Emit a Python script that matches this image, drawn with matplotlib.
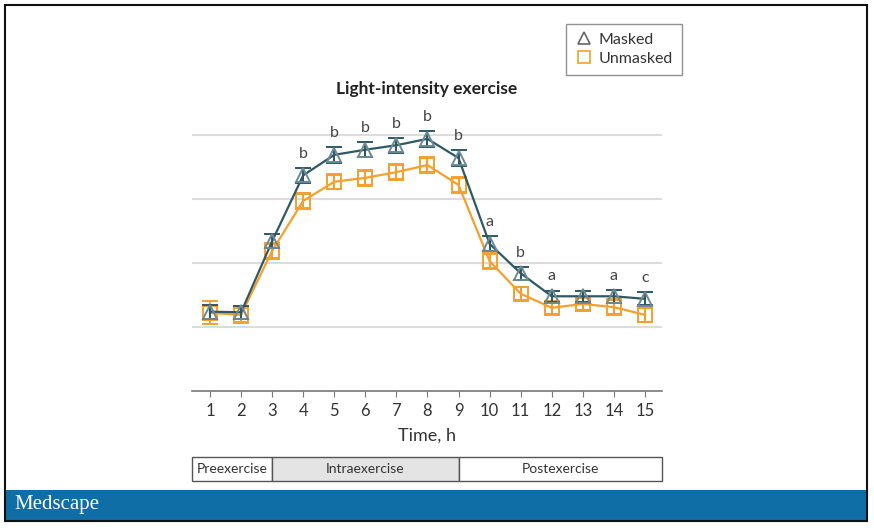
import matplotlib
matplotlib.use("Agg")
import matplotlib.pyplot as plt
from matplotlib.patches import Rectangle
from matplotlib.lines import Line2D

plt.rcParams["font.family"] = ["Lato", "DejaVu Sans"]

# ── Data ─────────────────────────────────────────────────────────────────────
hours = [1, 2, 3, 4, 5, 6, 7, 8, 9, 10, 11, 12, 13, 14, 15]
masked = [1.24, 1.23, 2.34, 3.37, 3.69, 3.77, 3.84, 3.94, 3.64, 2.30, 1.84, 1.48, 1.48, 1.48, 1.44]
masked_err = [0.11, 0.10, 0.11, 0.12, 0.12, 0.12, 0.12, 0.12, 0.13, 0.12, 0.10, 0.09, 0.09, 0.10, 0.10]
unmasked = [1.22, 1.19, 2.19, 2.97, 3.27, 3.33, 3.42, 3.53, 3.22, 2.03, 1.52, 1.30, 1.36, 1.31, 1.19]
unmasked_err = [0.18, 0.12, 0.12, 0.12, 0.12, 0.12, 0.12, 0.12, 0.12, 0.13, 0.10, 0.10, 0.10, 0.12, 0.11]
sig_hours = [4, 5, 6, 7, 8, 9, 10, 11, 12, 14, 15]
sig_labels = ["b", "b", "b", "b", "b", "b", "a", "b", "a", "a", "c"]
phases = ["Preexercise", "Intraexercise", "Postexercise"]
phase_edges = [0.42, 3, 9, 15.55]

MASK_COLOR = "#2e5866"
MASK_MARKER = "#6d8a94"
UNMASK_COLOR = "#f5a02e"

W, H = 874, 531
fig = plt.figure(figsize=(W / 100, H / 100), dpi=100)


def fx(px):
    return px / W


def fy(py):
    return 1 - py / H


# ── Main axes ────────────────────────────────────────────────────────────────
ylim_top = 4.55
ax = fig.add_axes([fx(192), fy(391), fx(662) - fx(192), fy(391 - ylim_top * 64) - fy(391)])
ax.set_xlim(phase_edges[0], phase_edges[-1])
ax.set_ylim(0, ylim_top)
for s in ["top", "right", "left"]:
    ax.spines[s].set_visible(False)
ax.spines["bottom"].set_color("#777777")
ax.spines["bottom"].set_linewidth(1.2)
ax.set_yticks([1, 2, 3, 4])
ax.tick_params(axis="y", length=0, labelleft=False)
ax.yaxis.grid(True, color="#dcdcdc", linewidth=1.5)
ax.set_axisbelow(True)
ax.set_xticks(hours)
ax.tick_params(axis="x", direction="out", length=4, color="#777777", labelsize=12,
               labelcolor="#333333", pad=5)
ax.set_xlabel("Time, h", fontsize=13, color="#333333", labelpad=6)

ax.errorbar(hours, unmasked, yerr=unmasked_err, color=UNMASK_COLOR, linewidth=1.6,
            marker="s", markersize=9.5, markerfacecolor="none", markeredgecolor=UNMASK_COLOR,
            markeredgewidth=1.4, ecolor=UNMASK_COLOR, elinewidth=1.5, capsize=6, capthick=2,
            zorder=3)
ax.errorbar(hours, masked, yerr=masked_err, color=MASK_COLOR, linewidth=1.6,
            marker="^", markersize=10.5, markerfacecolor="none", markeredgecolor=MASK_MARKER,
            markeredgewidth=1.4, ecolor=MASK_COLOR, elinewidth=1.5, capsize=6, capthick=2,
            zorder=4)

for h, lab in zip(sig_hours, sig_labels):
    i = hours.index(h)
    ax.text(h, masked[i] + masked_err[i] + 0.11, lab, ha="center", va="bottom",
            fontsize=11.5, color="#444444")

fig.text(fx(427), fy(89), "Light-intensity exercise", ha="center", va="center",
         fontsize=12.5, fontweight="bold", color="#222222")

# ── Legend ───────────────────────────────────────────────────────────────────
handles = [
    Line2D([], [], linestyle="none", marker="^", markersize=9, markerfacecolor="none",
           markeredgecolor="#666666", markeredgewidth=1.2),
    Line2D([], [], linestyle="none", marker="s", markersize=9, markerfacecolor="none",
           markeredgecolor=UNMASK_COLOR, markeredgewidth=1.2),
]
leg = fig.legend(handles, ["Masked", "Unmasked"], loc="upper left",
                 bbox_to_anchor=(fx(566), fy(24)), frameon=True, fancybox=False,
                 fontsize=11.5, handletextpad=0.3, borderpad=0.55, labelspacing=0.3,
                 handlelength=1.2, borderaxespad=0)
leg.get_frame().set_edgecolor("#777777")
leg.get_frame().set_linewidth(1.0)
for t in leg.get_texts():
    t.set_color("#333333")

# ── Phase bar ────────────────────────────────────────────────────────────────
pax = fig.add_axes([fx(192), fy(481), fx(662) - fx(192), fy(457) - fy(481)])
pax.set_xlim(phase_edges[0], phase_edges[-1])
pax.set_ylim(0, 1)
pax.axis("off")
for k, name in enumerate(phases):
    x0, x1 = phase_edges[k], phase_edges[k + 1]
    face = "#e4e4e4" if name == "Intraexercise" else "white"
    pax.add_patch(Rectangle((x0, 0), x1 - x0, 1, facecolor=face, edgecolor="#555555",
                            linewidth=1.0, clip_on=False))
    pax.text((x0 + x1) / 2, 0.5, name, ha="center", va="center", fontsize=10,
             color="#333333")

# ── Banner and frame ────────────────────────────────────────────────────────
fig.patches.append(Rectangle((fx(5), fy(521)), fx(867) - fx(5), fy(490) - fy(521),
                             transform=fig.transFigure, facecolor="#0f6ea6",
                             edgecolor="none", zorder=1))
fig.text(fx(14), fy(505), "Medscape", ha="left", va="center", fontsize=15,
         family="Liberation Serif", color="white", zorder=2)
fig.patches.append(Rectangle((fx(5), fy(521)), fx(867) - fx(5), fy(5) - fy(521),
                             transform=fig.transFigure, facecolor="none",
                             edgecolor="#111111", linewidth=1.5, zorder=3))

fig.savefig("out.png", dpi=100)
